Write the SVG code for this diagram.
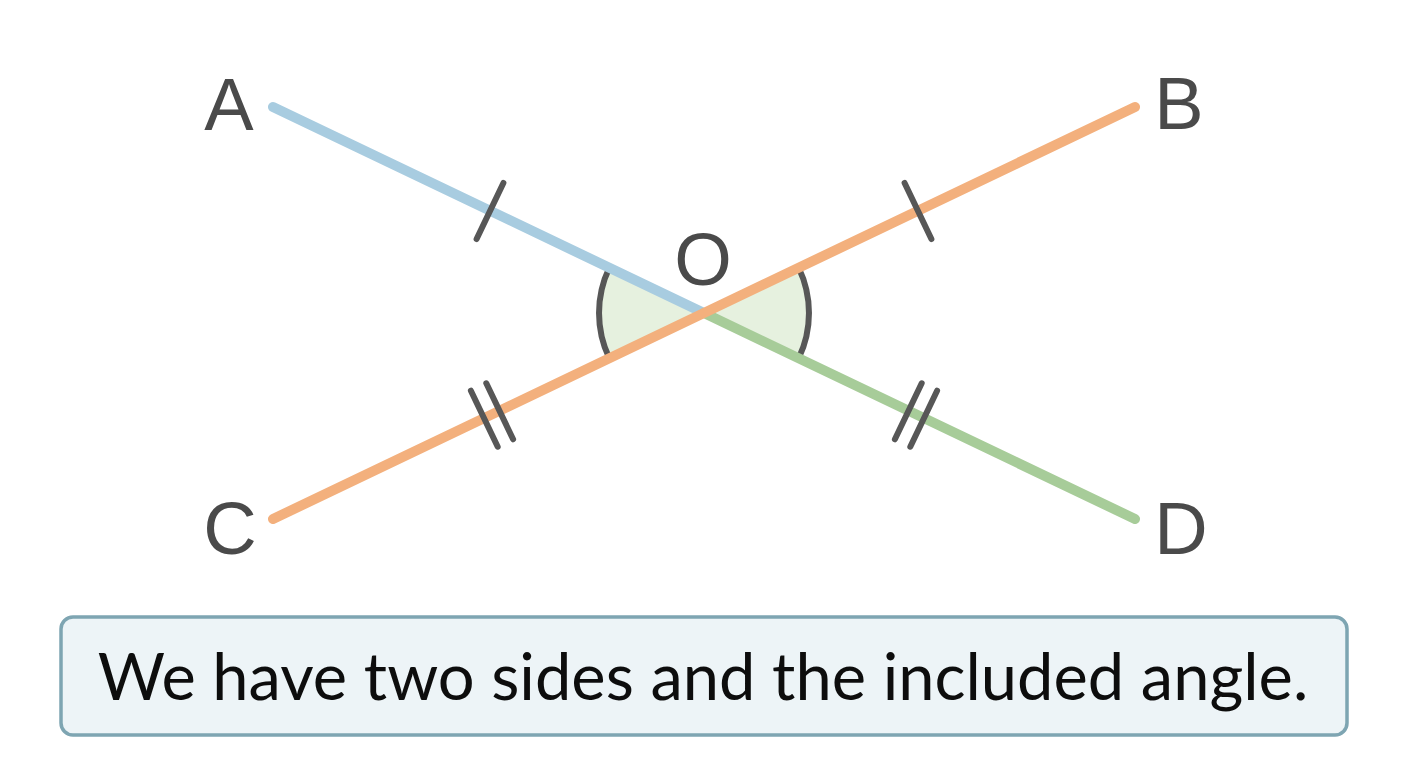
<svg xmlns="http://www.w3.org/2000/svg" width="1408" height="768" viewBox="0 0 1408 768">
<style>
.seg{fill:none;stroke-width:10;stroke-linecap:round}
.tick{stroke:#575757;stroke-width:6;stroke-linecap:round}
.arc{fill:none;stroke:#575757;stroke-width:6}
.sector{fill:#e6f1df;stroke:none}
.lbl{font-family:"Liberation Sans",Arial,sans-serif;font-size:74px;fill:#4a4a4a;text-anchor:middle}
.cap{font-family:Lato,"Noto Sans",sans-serif;font-size:65px;fill:#0d0d0d;text-anchor:middle}
</style>
<rect width="1408" height="768" fill="#ffffff"/>
<g id="angle">
<path class="sector" d="M704,313 L609.3,267.7 A105,105 0 0 0 609.3,358.3 Z"/>
<path class="sector" d="M704,313 L798.7,267.7 A105,105 0 0 1 798.7,358.3 Z"/>
<path class="arc" d="M609.3,267.7 A105,105 0 0 0 609.3,358.3"/>
<path class="arc" d="M798.7,267.7 A105,105 0 0 1 798.7,358.3"/>
</g>
<g id="connectors">
<line id="AO" class="seg" x1="273" y1="107" x2="704" y2="313" stroke="#a8cce0"/>
<line id="OD" class="seg" x1="704" y1="313" x2="1135" y2="519" stroke="#a7cc99"/>
<line id="CB" class="seg" x1="273" y1="519" x2="1135" y2="107" stroke="#f3b07d"/>
</g>
<g id="ticks">
<line class="tick" x1="503.4" y1="183" x2="476.6" y2="239"/>
<line class="tick" x1="904.6" y1="183" x2="931.4" y2="239"/>
<line class="tick" x1="470.9" y1="390.7" x2="497.7" y2="446.7"/>
<line class="tick" x1="486.3" y1="383.3" x2="513.1" y2="439.3"/>
<line class="tick" x1="921.7" y1="383.3" x2="894.9" y2="439.3"/>
<line class="tick" x1="937.1" y1="390.7" x2="910.3" y2="446.7"/>
</g>
<g id="A"><text class="lbl" x="229" y="130">A</text></g>
<g id="B"><text class="lbl" x="1179" y="129">B</text></g>
<g id="C"><text class="lbl" x="230" y="554">C</text></g>
<g id="D"><text class="lbl" x="1181" y="554">D</text></g>
<g id="O"><text class="lbl" x="703" y="285">O</text></g>
<g id="caption">
<rect x="61" y="617" width="1286" height="118" rx="12" fill="#edf4f7" stroke="#7ea5b2" stroke-width="3.5"/>
<text class="cap" x="703" y="700">We have two sides and the included angle.</text>
</g>
</svg>
